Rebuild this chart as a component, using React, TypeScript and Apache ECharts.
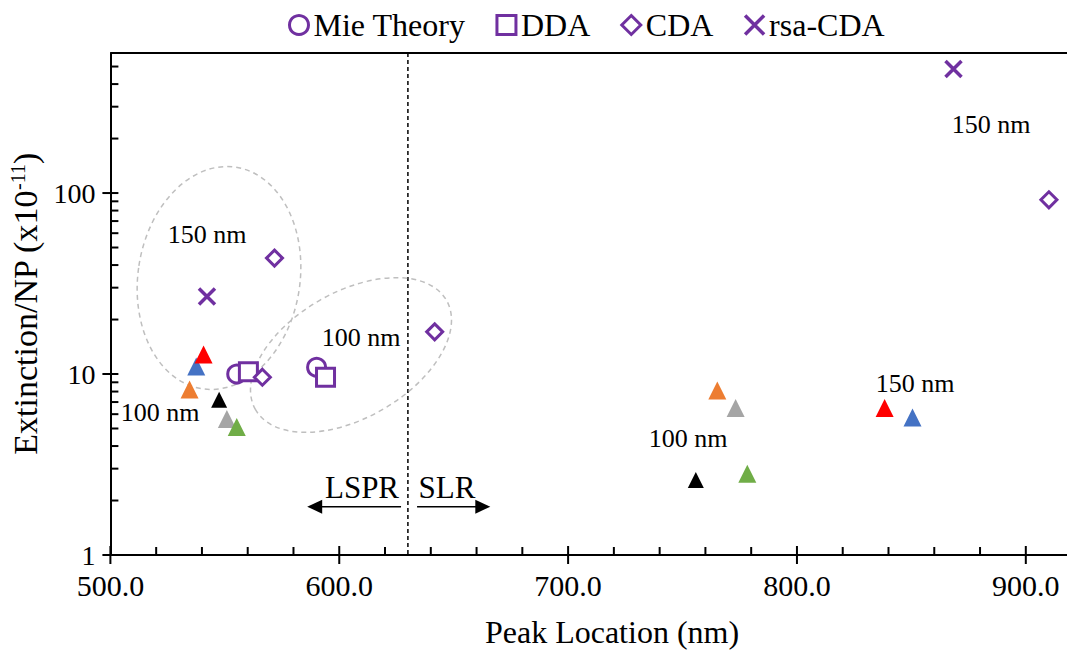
import React, { useEffect, useRef } from 'react';
import * as echarts from 'echarts';

// ---- data ----
const mieX = [555.2, 590.1];
const mieY = [10.0, 10.9];
const ddaX = [560.3, 594.0];
const ddaY = [10.3, 9.6];
const cdaX = [566.4, 571.7, 641.7, 910.1];
const cdaY = [9.6, 43.7, 17.1, 91.8];
const rsaX = [542.2, 868.4];
const rsaY = [26.8, 484];

const blueX = [537.5, 850.5];
const blueY = [11.0, 5.76];
const redX = [540.7, 838.3];
const redY = [12.8, 6.5];
const orangeX = [534.6, 765.2];
const orangeY = [8.2, 8.1];
const blackX = [547.5, 755.8];
const blackY = [7.2, 2.6];
const grayX = [550.9, 773.2];
const grayY = [5.65, 6.5];
const greenX = [555.2, 778.3];
const greenY = [5.1, 2.81];

const xMajorTicks = [500, 600, 700, 800, 900];
const xMinorTicks = [520, 540, 560, 580, 620, 640, 660, 680, 720, 740, 760, 780, 820, 840, 860, 880];
const yMajorTicks = [1, 10, 100];
const yMinorTicks = [2, 3, 4, 5, 6, 7, 8, 9, 20, 30, 40, 50, 60, 70, 80, 90, 200, 300, 400, 500];

const boundaryX = 630;
const arrowY = 1.85;
const lsprArrow = [627, 586];
const slrArrow = [634, 666];

const PURPLE = '#7030A0';
const FONT = "'Liberation Serif', 'Times New Roman', serif";

const zip = (xs: number[], ys: number[]) => xs.map((x, i) => [x, ys[i]]);

const tri = (name: string, color: string, xs: number[], ys: number[], size = 18) => ({
  name,
  type: 'scatter',
  symbol: 'triangle',
  symbolSize: size,
  itemStyle: { color, opacity: 1 },
  data: zip(xs, ys),
  z: 3,
});

export default function App() {
  const ref = useRef<HTMLDivElement>(null);
  useEffect(() => {
    const chart = echarts.init(ref.current!, null, { renderer: 'svg' });
    const hollow = { color: '#fff', borderColor: PURPLE, borderWidth: 3, opacity: 1 };
    const option: any = {
      animation: false,
      backgroundColor: '#fff',
      textStyle: { fontFamily: FONT },
      grid: { left: 108, top: 53, width: 959, height: 502, containLabel: false },
      legend: {
        data: ['Mie Theory', 'DDA', 'CDA', 'rsa-CDA'],
        left: 283,
        top: 4,
        itemWidth: 19,
        itemHeight: 19,
        itemGap: 30,
        itemStyle: { borderWidth: 'inherit' },
        textStyle: { fontSize: 32, fontFamily: FONT, color: '#000' },
      },
      xAxis: {
        type: 'value',
        min: 500,
        max: 918,
        interval: 100,
        axisLine: { lineStyle: { color: '#000', width: 2 } },
        axisTick: { show: false },
        splitLine: { show: false },
        axisLabel: {
          fontSize: 30,
          fontFamily: FONT,
          color: '#000',
          margin: 17,
          lineHeight: 26,
          showMaxLabel: false,
          formatter: (v: number) => v.toFixed(1),
        },
      },
      yAxis: {
        type: 'log',
        logBase: 10,
        min: 1,
        max: 594,
        axisLine: { lineStyle: { color: '#000', width: 2 } },
        axisTick: { show: false },
        splitLine: { show: false },
        axisLabel: {
          fontSize: 28,
          fontFamily: FONT,
          color: '#000',
          margin: 15,
          lineHeight: 22,
          showMaxLabel: false,
          formatter: (v: number) => (yMajorTicks.includes(Math.round(v)) ? String(Math.round(v)) : ''),
        },
        name: 'Extinction/NP (x10{sup|-11})',
        nameLocation: 'middle',
        nameRotate: 90,
        nameGap: 42,
        nameTextStyle: {
          fontSize: 34,
          fontFamily: FONT,
          color: '#000',
          rich: { sup: { fontSize: 20, fontFamily: FONT, color: '#000', padding: [0, 0, 15, 0] } },
        },
      },
      series: [
        tri('T-blue', '#4472C4', blueX, blueY),
        tri('T-red', '#FF0000', redX, redY),
        tri('T-orange', '#ED7D31', orangeX, orangeY),
        tri('T-black', '#000000', blackX, blackY, 16),
        tri('T-gray', '#A5A5A5', grayX, grayY),
        tri('T-green', '#70AD47', greenX, greenY),
        {
          name: 'Mie Theory',
          type: 'scatter',
          symbol: 'circle',
          symbolSize: 18,
          itemStyle: hollow,
          data: zip(mieX, mieY),
          z: 4,
        },
        {
          name: 'DDA',
          type: 'scatter',
          symbol: 'rect',
          symbolSize: 18,
          itemStyle: hollow,
          data: zip(ddaX, ddaY),
          z: 4,
        },
        {
          name: 'CDA',
          type: 'scatter',
          symbol: 'diamond',
          symbolSize: 16,
          itemStyle: hollow,
          data: zip(cdaX, cdaY),
          z: 4,
        },
        {
          name: 'rsa-CDA',
          type: 'scatter',
          symbol: 'path://M0,0L10,10M10,0L0,10',
          symbolSize: 16,
          itemStyle: { color: PURPLE, borderColor: PURPLE, borderWidth: 3.5, opacity: 1 },
          data: zip(rsaX, rsaY),
          z: 4,
        },
      ],
    };
    chart.setOption(option);

    const px = (x: number, y: number) => chart.convertToPixel({ gridIndex: 0 }, [x, y]) as number[];
    const left = px(500, 1)[0];
    const bottom = px(500, 1)[1];
    const right = px(918, 1)[0];
    const top = px(500, 594)[1];
    const black = { stroke: '#000', lineWidth: 2 };
    const g: any[] = [];
    g.push({ type: 'line', shape: { x1: left, y1: top, x2: right, y2: top }, style: black, silent: true });
    yMajorTicks.forEach((v) => {
      const y = px(500, v)[1];
      g.push({ type: 'line', shape: { x1: left - 8, y1: y, x2: left + 8, y2: y }, style: black, silent: true });
    });
    yMinorTicks.forEach((v) => {
      const y = px(500, v)[1];
      g.push({ type: 'line', shape: { x1: left, y1: y, x2: left + 8, y2: y }, style: black, silent: true });
    });
    xMajorTicks.forEach((v) => {
      const x = px(v, 1)[0];
      g.push({ type: 'line', shape: { x1: x, y1: bottom - 9, x2: x, y2: bottom + 9 }, style: black, silent: true });
    });
    xMinorTicks.forEach((v) => {
      const x = px(v, 1)[0];
      g.push({ type: 'line', shape: { x1: x, y1: bottom - 8, x2: x, y2: bottom }, style: black, silent: true });
    });
    const bx = px(boundaryX, 1)[0];
    g.push({
      type: 'line',
      shape: { x1: bx, y1: top, x2: bx, y2: bottom },
      style: { stroke: '#000', lineWidth: 1.5, lineDash: [4, 3] },
      silent: true,
    });
    const ay = px(500, arrowY)[1];
    const l1 = px(lsprArrow[0], arrowY)[0];
    const l2 = px(lsprArrow[1], arrowY)[0];
    const r1 = px(slrArrow[0], arrowY)[0];
    const r2 = px(slrArrow[1], arrowY)[0];
    g.push({ type: 'line', shape: { x1: l1, y1: ay, x2: l2 + 10, y2: ay }, style: { stroke: '#000', lineWidth: 1.5 }, silent: true });
    g.push({ type: 'polygon', shape: { points: [[l2, ay], [l2 + 15, ay - 7], [l2 + 15, ay + 7]] }, style: { fill: '#000' }, silent: true });
    g.push({ type: 'line', shape: { x1: r1, y1: ay, x2: r2 - 10, y2: ay }, style: { stroke: '#000', lineWidth: 1.5 }, silent: true });
    g.push({ type: 'polygon', shape: { points: [[r2, ay], [r2 - 15, ay - 7], [r2 - 15, ay + 7]] }, style: { fill: '#000' }, silent: true });
    const txt = (text: string, x: number, y: number, size: number) => ({
      type: 'text',
      x,
      y,
      silent: true,
      style: { text, fill: '#000', fontSize: size, fontFamily: FONT, align: 'center', verticalAlign: 'middle' },
    });
    g.push(txt('LSPR', 362, 487, 31));
    g.push(txt('SLR', 447, 487, 31));
    g.push(txt('150 nm', 207, 234, 26));
    g.push(txt('100 nm', 361, 337, 26));
    g.push(txt('100 nm', 160, 412, 26));
    g.push(txt('100 nm', 688, 438, 26));
    g.push(txt('150 nm', 915, 383, 26));
    g.push(txt('150 nm', 991, 124, 26));
    g.push(txt('Peak Location (nm)', 612, 632, 32));
    const ell = { stroke: '#BFBFBF', lineWidth: 1.5, lineDash: [5, 4], fill: 'none' };
    g.push({ type: 'ellipse', shape: { cx: 0, cy: 0, rx: 81, ry: 112 }, x: 219, y: 278, rotation: -0.15, style: ell, silent: true, z: 1 });
    g.push({ type: 'ellipse', shape: { cx: 0, cy: 0, rx: 110, ry: 63 }, x: 351, y: 355, rotation: 0.52, style: ell, silent: true, z: 1 });
    chart.setOption({ graphic: g });
    return () => chart.dispose();
  }, []);
  return <div ref={ref} style={{ position: 'absolute', left: 0, top: 0, width: 1067, height: 650 }} />;
}
